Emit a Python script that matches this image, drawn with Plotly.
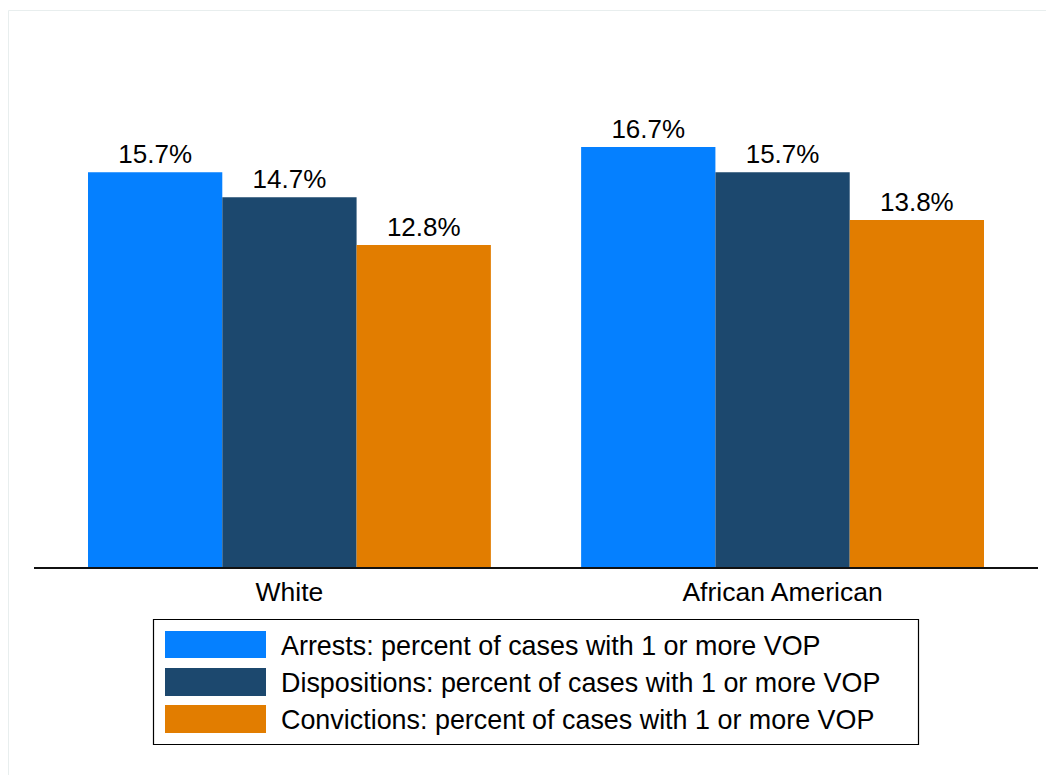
import plotly.graph_objects as go

categories = ["White", "African American"]
series_names = [
    "Arrests: percent of cases with 1 or more VOP",
    "Dispositions: percent of cases with 1 or more VOP",
    "Convictions: percent of cases with 1 or more VOP",
]
arrests = [15.7, 16.7]
dispositions = [14.7, 15.7]
convictions = [12.8, 13.8]
colors = ["#0580FF", "#1C486E", "#E27D00"]

OFF = 8  # page body margin
W, H = 1046, 767
L, R, T, B = 34 - OFF, 1038 - OFF, 64 - OFF, 567 - OFF  # plot area (figure px)

def px(x):  # screen px -> paper
    return (x - OFF - L) / (R - L)

def py(y):
    return (B - (y - OFF)) / (B - T)

FONT = "Liberation Sans, Arial, Helvetica, sans-serif"

fig = go.Figure()
for name, vals, col in zip(series_names, [arrests, dispositions, convictions], colors):
    fig.add_trace(go.Bar(
        x=categories, y=vals, name=name,
        marker=dict(color=col, line=dict(width=0)),
        text=[f"{v:.1f}%" for v in vals],
        textposition="outside",
        textfont=dict(size=26, color="#000000", family=FONT),
        cliponaxis=False,
        showlegend=False,
    ))

shapes = []
# faint outer frame
shapes.append(dict(type="rect", xref="paper", yref="paper",
                   x0=px(8.5), x1=px(1080), y0=py(10.5), y1=py(800),
                   line=dict(color="#E8EEEE", width=1), fillcolor="rgba(0,0,0,0)", layer="below"))
# legend box
shapes.append(dict(type="rect", xref="paper", yref="paper",
                   x0=px(153.5), x1=px(918.5), y0=py(619.5), y1=py(744.5),
                   line=dict(color="#000000", width=1.2), fillcolor="white"))
annotations = []
rows = [(631, 658), (668, 696), (705, 733)]
for (y0, y1), name, col in zip(rows, series_names, colors):
    shapes.append(dict(type="rect", xref="paper", yref="paper",
                       x0=px(165), x1=px(266), y0=py(y0), y1=py(y1),
                       line=dict(width=0), fillcolor=col))
    annotations.append(dict(xref="paper", yref="paper", x=px(279), y=py((y0 + y1) / 2 + 1),
                            text=name, showarrow=False, xanchor="left", yanchor="middle",
                            font=dict(size=26.9, color="#000000", family=FONT)))

fig.update_layout(
    width=W, height=H,
    margin=dict(l=L, r=W - R, t=T, b=H - B),
    paper_bgcolor="white", plot_bgcolor="white",
    barmode="group", bargap=0.183, bargroupgap=0,
    font=dict(family=FONT, size=26, color="#000000"),
    xaxis=dict(range=[-0.518, 1.518], showline=True, linecolor="#111111", linewidth=2,
               ticks="", showgrid=False, zeroline=False,
               tickfont=dict(size=26.5, color="#000000", family=FONT)),
    yaxis=dict(range=[0, 20], visible=False, showgrid=False, zeroline=False),
    shapes=shapes, annotations=annotations,
)

fig.write_html("out.html")
